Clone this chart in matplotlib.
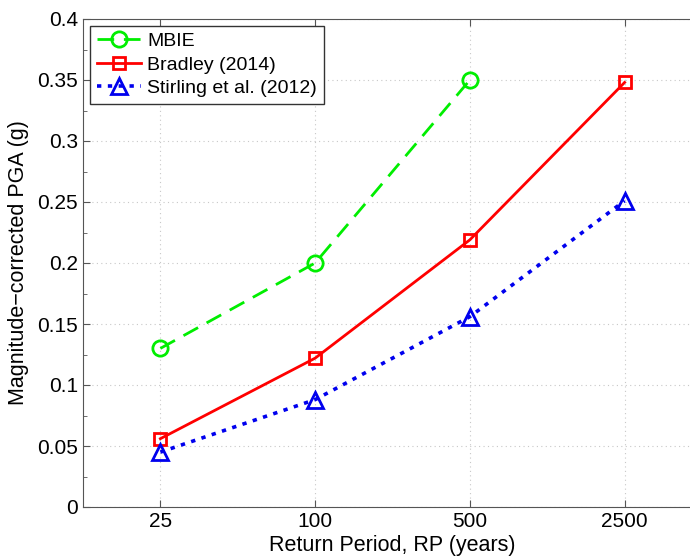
import matplotlib
matplotlib.use('Agg')
import matplotlib.pyplot as plt
from matplotlib.ticker import MultipleLocator, FormatStrFormatter

plt.rcParams['font.family'] = ['Liberation Sans', 'DejaVu Sans']

# data
rp_labels = ['25', '100', '500', '2500']
mbie = [0.130, 0.200, 0.350]
bradley = [0.056, 0.122, 0.219, 0.348]
stirling = [0.045, 0.088, 0.156, 0.251]

x = list(range(1, len(rp_labels) + 1))

fig = plt.figure(figsize=(6.9, 5.57), dpi=100)
ax = fig.add_axes([83 / 690, 50 / 557, 619 / 690, 488 / 557])

ax.plot(x[:len(mbie)], mbie, color='#00ee00', ls=(0, (6, 3.5)), lw=2,
        marker='o', ms=11, mfc='none', mew=2, label='MBIE')
ax.plot(x, bradley, color='#ff0000', ls='-', lw=2,
        marker='s', ms=9, mfc='none', mew=2, label='Bradley (2014)')
ax.plot(x, stirling, color='#0000ee', ls=(0, (1.2, 1.8)), lw=2.6,
        marker='^', ms=12, mfc='none', mew=2, label='Stirling et al. (2012)')

ax.set_xlim(0.5, 4.5)
ax.set_ylim(0, 0.4)
ax.set_xticks(x)
ax.set_xticklabels(rp_labels)
ax.yaxis.set_major_locator(MultipleLocator(0.05))
ax.yaxis.set_minor_locator(MultipleLocator(0.025))
ax.yaxis.set_major_formatter(FormatStrFormatter('%g'))
ax.grid(True, which='major', color='#c8c8c8', ls=(0, (1, 3)), lw=0.8)
ax.tick_params(direction='in', top=True, right=True, labelsize=15, length=5, color='#555555')
ax.tick_params(which='minor', direction='in', length=3, right=True, color='#555555')
for s in ax.spines.values():
    s.set_color('#555555')

ax.set_xlabel('Return Period, RP (years)', fontsize=15.5, labelpad=3)
ax.set_ylabel('Magnitude\u2212corrected PGA (g)', fontsize=15.5, labelpad=6)

leg = ax.legend(loc='upper left', fontsize=14, handlelength=2.3, handletextpad=0.3,
                borderpad=0.35, labelspacing=0.3, fancybox=False, framealpha=1,
                borderaxespad=0.35)
leg.get_frame().set_edgecolor('#333333')
leg.get_frame().set_linewidth(1.0)

fig.savefig('out.png', dpi=100)
